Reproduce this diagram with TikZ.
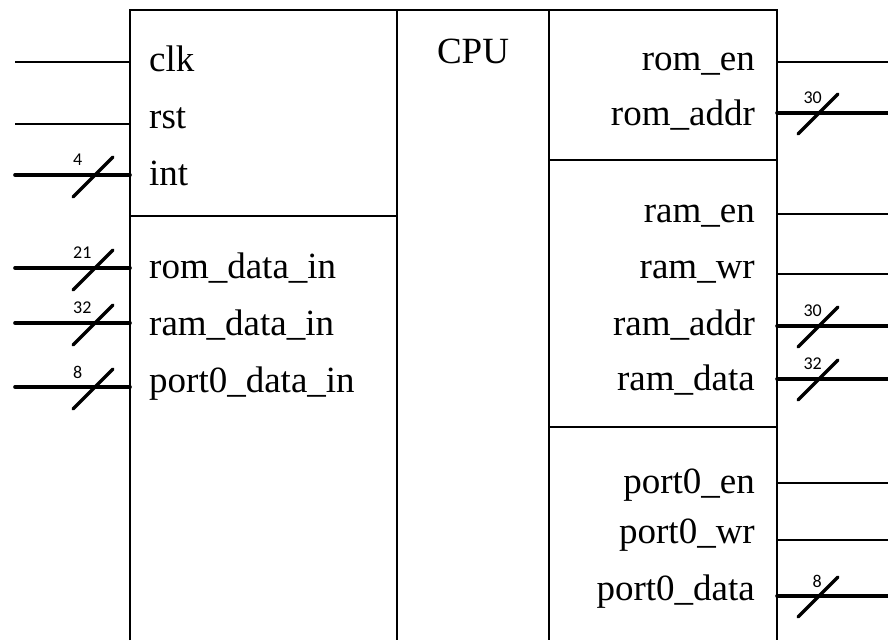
\documentclass[tikz,border=0pt]{standalone}
\usepackage{fontspec}
\setmainfont{Liberation Serif}
\newfontfamily\numfont{Carlito}
\tikzset{
  wire/.style={draw=black,line width=1.3pt},
  busline/.style={draw=black,line width=3.6pt,line cap=round},
  slash/.style={draw=black,line width=3.4pt,line cap=round},
  sig/.style={inner sep=0pt,font=\fontsize{37}{40}\selectfont},
  bw/.style={inner sep=0pt,font=\numfont\fontsize{18}{20}\selectfont},
}
\begin{document}
\begin{tikzpicture}[x=1pt,y=-1pt]
\useasboundingbox (0,0) rectangle (888,640);
% frame of the CPU block
\path[wire] (130,640) -- (130,10) -- (777,10) -- (777,640);
\path[wire] (397,10) -- (397,640);
\path[wire] (549,10) -- (549,640);
\path[wire] (130,216) -- (397,216);
\path[wire] (549,160) -- (777,160);
\path[wire] (549,427) -- (777,427);
\node[sig,anchor=base] (cpu) at (473,63) {CPU};
% inputs
\foreach \n/\y/\b/\txt in {clk/62/71/clk, rst/124/128/rst, int/175/185/int,
    romdi/268/278/rom\_data\_in, ramdi/323/335/ram\_data\_in, portdi/387/392/port0\_data\_in}{
  \coordinate (\n-x) at (15,\y);
  \coordinate (\n-p) at (130,\y);
  \node[sig,anchor=base west] (\n) at (149,\b) {\txt};
}
\foreach \n in {clk,rst}{
  \path[wire] (\n-x) -- (\n-p);
}
\foreach \n/\y/\w in {int/175/4, romdi/268/21, ramdi/323/32, portdi/387/8}{
  \path[busline] (\n-x) -- (\n-p);
  \coordinate (\n-s) at (93,\y+2);
  \path[slash] (\n-s) ++(-20,20) -- ++(40,-40);
  \node[bw,anchor=west] (\n-w) at (73,\y-15) {\w};
}
% outputs
\foreach \n/\y/\b/\txt in {romen/62/70/rom\_en, romaddr/113/125/rom\_addr,
    ramen/214/222/ram\_en, ramwr/274/278/ram\_wr, ramaddr/326/335/ram\_addr,
    ramdata/379/390/ram\_data, porten/483/493/port0\_en, portwr/540/543/port0\_wr,
    portdata/596/600/port0\_data}{
  \coordinate (\n-p) at (777,\y);
  \coordinate (\n-x) at (888,\y);
  \node[sig,anchor=base east] (\n) at (755,\b) {\txt};
}
\foreach \n in {romen,ramen,ramwr,porten,portwr}{
  \path[wire] (\n-p) -- (\n-x);
}
\foreach \n/\y/\w in {romaddr/113/30, ramaddr/326/30, ramdata/379/32, portdata/596/8}{
  \path[busline] (\n-p) -- (\n-x);
  \coordinate (\n-s) at (818,\y+1);
  \path[slash] (\n-s) ++(-20,20) -- ++(40,-40);
  \node[bw,anchor=east] (\n-w) at (822,\y-15) {\w};
}
\end{tikzpicture}
\end{document}
